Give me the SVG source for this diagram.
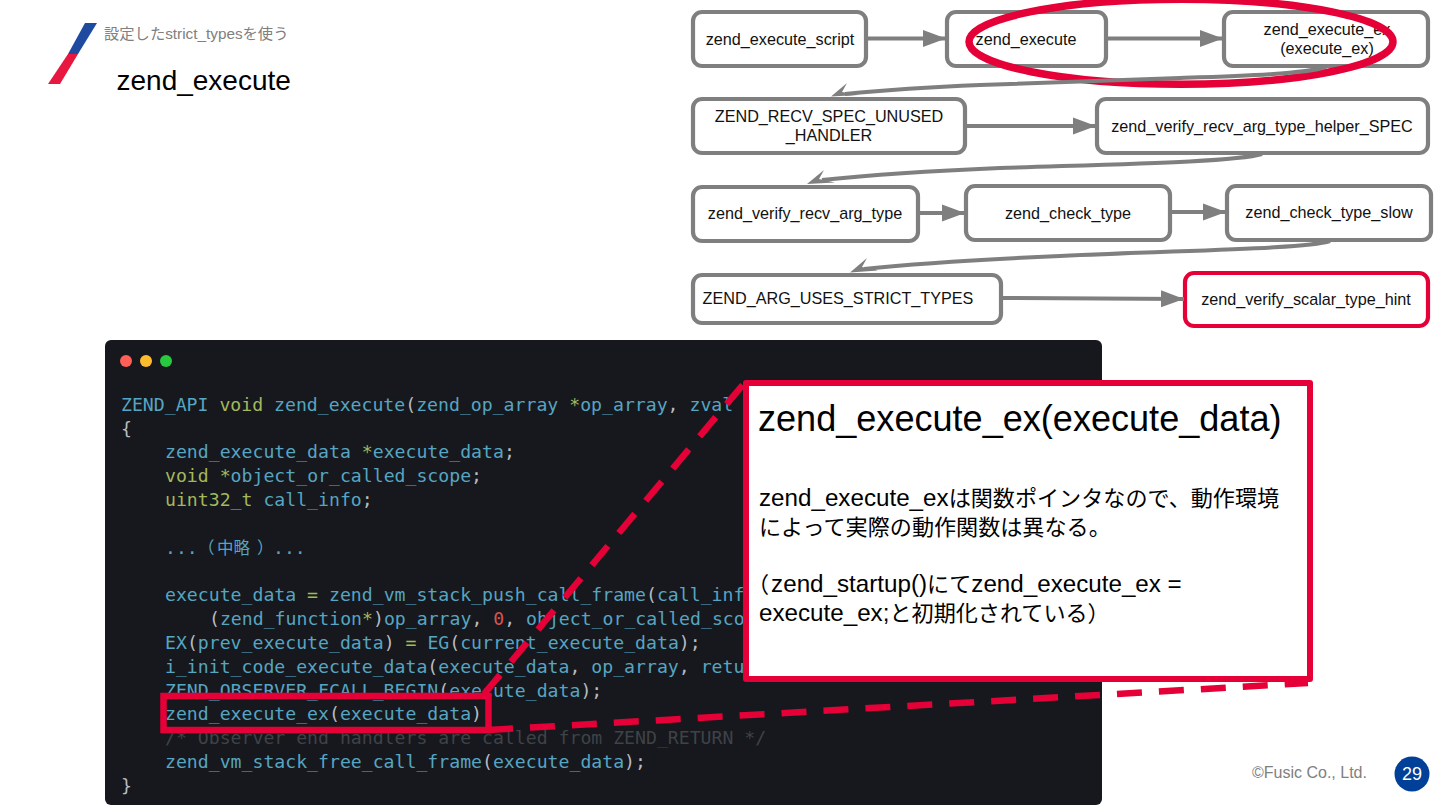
<svg xmlns="http://www.w3.org/2000/svg" width="1440" height="810" viewBox="0 0 1440 810">
<style>
.n{fill:#fff;stroke:#7f7f7f;stroke-width:4.2}
.l{font:16.2px "Liberation Sans","Noto Sans CJK JP",sans-serif;fill:#111;text-anchor:middle}
.c{fill:none;stroke:#7f7f7f;stroke-width:4}
.h{fill:#7f7f7f}
.code{font:18.16px "DejaVu Sans Mono","Noto Sans CJK JP",monospace;fill:#56a5c2;white-space:pre}
.y{fill:#a3b85c}.w{fill:#b9bcc0}.r{fill:#d9534f}.g{fill:#3f4247}
.cjk{font-size:16.5px}
.red{fill:none;stroke:#e50037;stroke-width:6.5}
.dash{fill:none;stroke:#e50037;stroke-width:6.5;stroke-dasharray:25 17}
.cj{font:24.2px "Liberation Sans","Noto Sans CJK JP",sans-serif;fill:#000}
.cj tspan{font-size:22.1px}
</style>
<defs><marker id="a" markerUnits="userSpaceOnUse" markerWidth="24" markerHeight="18" refX="23" refY="9" orient="auto"><path d="M0 0.5 L23 9 L0 17.5Z" fill="#7f7f7f"/></marker></defs>
<rect width="1440" height="810" fill="#fff"/>
<g id="logo"><polygon points="85,23 97,23 78,54 68,54" fill="#1e4aa0"/><polygon points="68,54 78,54 60,84 48,84" fill="#e8173f"/></g>
<text x="104" y="39" style="font:15.3px 'Liberation Sans','Noto Sans CJK JP',sans-serif;fill:#808080">設定したstrict_typesを使う</text>
<text x="116.5" y="90" style="font:28px 'Liberation Sans','Noto Sans CJK JP',sans-serif;fill:#000">zend_execute</text>

<g id="n1"><rect class="n" x="693" y="12" width="173" height="54" rx="9"/><text class="l" x="780" y="45">zend_execute_script</text></g>
<g id="n2"><rect class="n" x="947" y="12" width="159" height="54" rx="9"/><text class="l" x="1026" y="45">zend_execute</text></g>
<g id="n3"><rect class="n" x="1224" y="12" width="204" height="54" rx="9"/><text class="l" x="1327" y="35">zend_execute_ex</text><text class="l" x="1327" y="54">(execute_ex)</text></g>
<g id="n4"><rect class="n" x="693" y="99" width="272" height="54" rx="9"/><text class="l" x="829" y="122">ZEND_RECV_SPEC_UNUSED</text><text class="l" x="829" y="141">_HANDLER</text></g>
<g id="n5"><rect class="n" x="1097" y="99" width="331" height="54" rx="9"/><text class="l" x="1262" y="132">zend_verify_recv_arg_type_helper_SPEC</text></g>
<g id="n6"><rect class="n" x="693" y="187" width="225" height="54" rx="9"/><text class="l" x="805" y="219">zend_verify_recv_arg_type</text></g>
<g id="n7"><rect class="n" x="966" y="186" width="204" height="54" rx="9"/><text class="l" x="1068" y="219">zend_check_type</text></g>
<g id="n8"><rect class="n" x="1227" y="186" width="204" height="54" rx="9"/><text class="l" x="1329" y="218">zend_check_type_slow</text></g>
<g id="n9"><rect class="n" x="693" y="275" width="308" height="48" rx="9"/><text class="l" x="838" y="304">ZEND_ARG_USES_STRICT_TYPES</text></g>
<g id="n10"><rect class="n" x="1185" y="273" width="243" height="53" rx="9" style="stroke:#e50037"/><text class="l" x="1306" y="305">zend_verify_scalar_type_hint</text></g>
<ellipse id="highlight" class="red" style="stroke-width:7.5" cx="1181" cy="41.7" rx="212" ry="42.5"/>

<g id="connectors">
<path class="c" marker-end="url(#a)" d="M868 38.5H946"/>
<path class="c" marker-end="url(#a)" d="M1108 38.5H1223"/>
<path class="c" marker-end="url(#a)" d="M967 126H1096"/>
<path class="c" marker-end="url(#a)" d="M920 213H965"/>
<path class="c" marker-end="url(#a)" d="M1172 212H1226"/>
<path class="c" marker-end="url(#a)" d="M1003 298L1184 299"/>
<path class="c" d="M1326 67C1305 74 1240 76 1180 78C1110 81 1040 83 980 85C930 87 885 90 845 94"/>
<polygon class="h" points="831,96.5 847,83 842,92 858,95"/>
<path class="c" d="M1262 154C1235 162 1120 164 1000 168C930 171 870 175 822 180"/>
<polygon class="h" points="807,184 824,170 819,179 835,182.5"/>
<path class="c" d="M1330 241C1305 249 1190 250 1060 256C990 259 920 263 864 269"/>
<polygon class="h" points="850,272.5 867,258 862,267 878,270.5"/>
</g>

<g id="code">
<rect x="105" y="340" width="997" height="465" rx="6" fill="#16181d"/>
<circle cx="126" cy="361" r="6" fill="#ff5f56"/><circle cx="146" cy="361" r="6" fill="#ffbd2e"/><circle cx="166" cy="361" r="6" fill="#27c93f"/>
<text class="code" xml:space="preserve">
<tspan x="121" y="411">ZEND_API <tspan class="y">void</tspan> zend_execute<tspan class="w">(</tspan>zend_op_array <tspan class="y">*</tspan>op_array<tspan class="w">,</tspan> zval</tspan>
<tspan x="121" y="435" class="w">{</tspan>
<tspan x="165" y="458">zend_execute_data <tspan class="y">*</tspan>execute_data<tspan class="w">;</tspan></tspan>
<tspan x="165" y="482"><tspan class="y">void</tspan> <tspan class="y">*</tspan>object_or_called_scope<tspan class="w">;</tspan></tspan>
<tspan x="165" y="506"><tspan class="y">uint32_t</tspan> call_info<tspan class="w">;</tspan></tspan>
<tspan x="165" y="554">...</tspan><tspan class="cjk" x="198" y="554">（</tspan><tspan class="cjk" x="217" y="554">中略</tspan><tspan class="cjk" x="257" y="554">）</tspan><tspan x="273" y="554">...</tspan>
<tspan x="165" y="601">execute_data <tspan class="y">=</tspan> zend_vm_stack_push_call_frame<tspan class="w">(</tspan>call_inf</tspan>
<tspan x="209" y="625"><tspan class="w">(</tspan>zend_function<tspan class="y">*</tspan><tspan class="w">)</tspan>op_array<tspan class="w">,</tspan> <tspan class="r">0</tspan><tspan class="w">,</tspan> object_or_called_sco</tspan>
<tspan x="165" y="649">EX<tspan class="w">(</tspan>prev_execute_data<tspan class="w">)</tspan> <tspan class="y">=</tspan> EG<tspan class="w">(</tspan>current_execute_data<tspan class="w">);</tspan></tspan>
<tspan x="165" y="673">i_init_code_execute_data<tspan class="w">(</tspan>execute_data<tspan class="w">,</tspan> op_array<tspan class="w">,</tspan> retu</tspan>
<tspan x="165" y="697">ZEND_OBSERVER_FCALL_BEGIN<tspan class="w">(</tspan>execute_data<tspan class="w">);</tspan></tspan>
<tspan x="165" y="720">zend_execute_ex<tspan class="w">(</tspan>execute_data<tspan class="w">)</tspan></tspan>
<tspan x="165" y="744" class="g">/* Observer end handlers are called from ZEND_RETURN */</tspan>
<tspan x="165" y="768">zend_vm_stack_free_call_frame<tspan class="w">(</tspan>execute_data<tspan class="w">);</tspan></tspan>
<tspan x="121" y="792" class="w">}</tspan>
</text>
</g>

<g id="callout-lines">
<path class="dash" d="M484 694L746 381"/>
<path class="dash" d="M488 730L1308 683"/>
<rect class="red" x="163.5" y="696" width="325" height="34"/>
</g>
<g id="callout">
<rect x="746" y="383" width="564" height="296" fill="#fff" stroke="#e50037" stroke-width="6" stroke-linejoin="round"/>
<text x="758" y="431" style="font:36.1px 'Liberation Sans','Noto Sans CJK JP',sans-serif;fill:#000">zend_execute_ex(execute_data)</text>
<text class="cj" x="759" y="506">zend_execute_ex<tspan>は関数ポインタなので、動作環境</tspan></text>
<text class="cj" x="759" y="535"><tspan>によって実際の動作関数は異なる。</tspan></text>
<text class="cj" x="747" y="592"><tspan>（</tspan><tspan dx="2" style="font-size:24.2px">zend_startup()</tspan><tspan>にて</tspan>zend_execute_ex =</text>
<text class="cj" x="759" y="621">execute_ex;<tspan>と初期化されている）</tspan></text>
</g>
<text x="1252" y="778" style="font:16px 'Liberation Sans',sans-serif;fill:#808080">©Fusic Co., Ltd.</text>
<g id="page"><circle cx="1412" cy="774" r="17.5" fill="#004098"/><text x="1412" y="780" text-anchor="middle" style="font:18px 'Liberation Sans',sans-serif;fill:#fff">29</text></g>
</svg>
